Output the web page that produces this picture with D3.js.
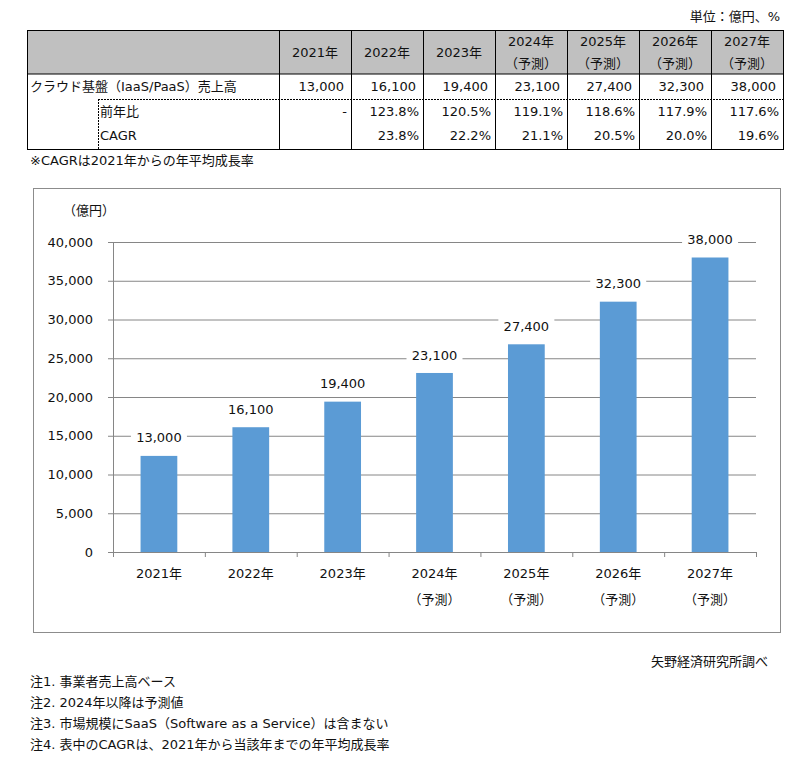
<!DOCTYPE html>
<html>
<head>
<meta charset="utf-8">
<script src="https://cdn.jsdelivr.net/npm/d3@7"></script>
<style>
  body { margin: 0; background: #fff; }
  svg text { font-family: "DejaVu Sans", "Noto Sans CJK JP", sans-serif; font-size: 13px; fill: #111; }
</style>
</head>
<body>
<div id="chart"></div>
<script>
// data
var years = ["2021年", "2022年", "2023年", "2024年", "2025年", "2026年", "2027年"];
var forecast = [false, false, false, true, true, true, true];
var sales = ["13,000", "16,100", "19,400", "23,100", "27,400", "32,300", "38,000"];
var yoy = ["-", "123.8%", "120.5%", "119.1%", "118.6%", "117.9%", "117.6%"];
var cagr = ["", "23.8%", "22.2%", "21.1%", "20.5%", "20.0%", "19.6%"];
// bar heights as drawn in the chart
var barValues = [12400, 16100, 19400, 23100, 26800, 32300, 38000];
var yTicks = [0, 5000, 10000, 15000, 20000, 25000, 30000, 35000, 40000];
var notes = [
  "注1. 事業者売上高ベース",
  "注2. 2024年以降は予測値",
  "注3. 市場規模にSaaS（Software as a Service）は含まない",
  "注4. 表中のCAGRは、2021年から当該年までの年平均成長率"
];

var width = 810, height = 758;
var svg = d3.select("#chart").append("svg")
    .attr("width", width)
    .attr("height", height);

//-TABLE-------------------------------------------------------------------//
var tbl = {left: 27, right: 783, top: 30, head: 74, row1: 99, bottom: 149, firstCol: 279, sub: 98};
var colScale = d3.scaleBand().domain(years).range([tbl.firstCol, tbl.right]);

svg.append("text")
    .attr("x", 780).attr("y", 16).attr("dy", "0.35em")
    .attr("text-anchor", "end")
    .text("単位：億円、%");

svg.append("rect")
    .attr("x", tbl.left).attr("y", tbl.top)
    .attr("width", tbl.right - tbl.left).attr("height", tbl.head - tbl.top)
    .attr("fill", "#c0c0c0");

var tg = svg.append("g").attr("class", "table");
tg.append("line")
    .attr("x1", tbl.left).attr("x2", tbl.right)
    .attr("y1", tbl.head).attr("y2", tbl.head)
    .attr("stroke", "#000");
tg.append("line")
    .attr("x1", tbl.sub).attr("x2", tbl.right)
    .attr("y1", tbl.row1 + 0.5).attr("y2", tbl.row1 + 0.5)
    .attr("stroke", "#000").attr("stroke-dasharray", "2,1");
tg.append("line")
    .attr("x1", tbl.sub + 0.5).attr("x2", tbl.sub + 0.5)
    .attr("y1", tbl.row1).attr("y2", tbl.bottom)
    .attr("stroke", "#000").attr("stroke-dasharray", "2,1");
tg.selectAll("line.col").data(years).enter().append("line")
    .attr("class", "col")
    .attr("x1", d => colScale(d) + 0.5).attr("x2", d => colScale(d) + 0.5)
    .attr("y1", tbl.top).attr("y2", tbl.bottom)
    .attr("stroke", "#000");
tg.append("rect")
    .attr("x", tbl.left + 0.5).attr("y", tbl.top + 0.5)
    .attr("width", tbl.right - tbl.left).attr("height", tbl.bottom - tbl.top)
    .attr("fill", "none").attr("stroke", "#000");

// header
years.forEach(function(y, i){
    var cx = colScale(y) + colScale.bandwidth() / 2;
    if (forecast[i]) {
        tg.append("text").attr("x", cx).attr("y", 41).attr("dy", "0.35em")
            .attr("text-anchor", "middle").text(y);
        tg.append("text").attr("x", cx).attr("y", 63).attr("dy", "0.35em")
            .attr("text-anchor", "middle").text("（予測）");
    } else {
        tg.append("text").attr("x", cx).attr("y", 52).attr("dy", "0.35em")
            .attr("text-anchor", "middle").text(y);
    }
});

tg.append("text").attr("x", 30).attr("y", 86).attr("dy", "0.35em")
    .text("クラウド基盤（IaaS/PaaS）売上高");
tg.append("text").attr("x", 100).attr("y", 111).attr("dy", "0.35em").text("前年比");
tg.append("text").attr("x", 100).attr("y", 135).attr("dy", "0.35em").text("CAGR");

function rowText(arr, y, pad){
    tg.selectAll(null).data(arr).enter().append("text")
        .attr("x", (d, i) => colScale(years[i]) + colScale.bandwidth() - pad)
        .attr("y", y).attr("dy", "0.35em")
        .attr("text-anchor", "end")
        .text(d => d);
}
rowText(sales, 86, 7);
rowText(yoy, 111, 4);
rowText(cagr, 135, 4);

svg.append("text").attr("x", 30).attr("y", 160).attr("dy", "0.35em")
    .text("※CAGRは2021年からの年平均成長率");

//-CHART-------------------------------------------------------------------//
svg.append("rect")
    .attr("x", 33.5).attr("y", 188.5)
    .attr("width", 747).attr("height", 444)
    .attr("fill", "none").attr("stroke", "#8c8c8c");

var xScale = d3.scaleBand().domain(years).range([113, 756]);
var yScale = d3.scaleLinear().domain([0, 40000]).range([552, 242]);
var gridColor = "#868686";

var g = svg.append("g").attr("class", "mainchart");

g.append("text").attr("x", 63).attr("y", 210).attr("dy", "0.35em").text("（億円）");

var yAxis = d3.axisLeft(yScale)
    .tickValues(yTicks)
    .tickSize(-(756 - 113))
    .tickPadding(15)
    .tickFormat(d3.format(","));
var gy = g.append("g").attr("class", "axis y-axis")
    .attr("transform", "translate(113,0)")
    .call(yAxis);
gy.select(".domain").remove();
gy.selectAll(".tick line").attr("stroke", gridColor).attr("x1", -5);
gy.selectAll(".tick text").attr("x", -20).style("font-size", "13px").attr("fill", "#111");
gy.append("line")
    .attr("x1", 0.5).attr("x2", 0.5)
    .attr("y1", yScale(40000)).attr("y2", yScale(0))
    .attr("stroke", gridColor);

// x axis baseline with boundary ticks
var gx = g.append("g").attr("class", "axis x-axis");
gx.append("line")
    .attr("x1", 113).attr("x2", 756)
    .attr("y1", yScale(0) + 0.5).attr("y2", yScale(0) + 0.5)
    .attr("stroke", gridColor);
gx.selectAll("line.tk").data(years.concat(["end"])).enter().append("line")
    .attr("class", "tk")
    .attr("x1", (d, i) => (i < years.length ? xScale(d) : 756) + 0.5)
    .attr("x2", (d, i) => (i < years.length ? xScale(d) : 756) + 0.5)
    .attr("y1", yScale(0)).attr("y2", yScale(0) + 5)
    .attr("stroke", gridColor);
gx.selectAll("text.yr").data(years).enter().append("text")
    .attr("class", "yr")
    .attr("x", d => xScale(d) + xScale.bandwidth() / 2)
    .attr("y", 573).attr("dy", "0.35em")
    .attr("text-anchor", "middle")
    .text(d => d);
gx.selectAll("text.fc").data(years.filter((d, i) => forecast[i])).enter().append("text")
    .attr("class", "fc")
    .attr("x", d => xScale(d) + xScale.bandwidth() / 2)
    .attr("y", 599).attr("dy", "0.35em")
    .attr("text-anchor", "middle")
    .text("（予測）");

// bars
var bw = xScale.bandwidth() * 0.4;
g.selectAll("rect.bar").data(barValues).enter().append("rect")
    .attr("class", "bar")
    .attr("x", (d, i) => xScale(years[i]) + (xScale.bandwidth() - bw) / 2)
    .attr("y", d => yScale(d))
    .attr("width", bw)
    .attr("height", d => yScale(0) - yScale(d))
    .attr("fill", "#5b9bd5");

// value labels with white backing
var labels = g.selectAll("g.lbl").data(barValues).enter().append("g")
    .attr("class", "lbl")
    .attr("transform", (d, i) => "translate(" + (xScale(years[i]) + xScale.bandwidth() / 2) + "," + (yScale(d) - 18) + ")");
labels.append("rect")
    .attr("x", -28).attr("y", -10).attr("width", 56).attr("height", 20)
    .attr("fill", "#fff");
labels.append("text")
    .attr("text-anchor", "middle").attr("dy", "0.35em")
    .text((d, i) => sales[i]);

svg.append("text").attr("x", 768).attr("y", 661).attr("dy", "0.35em")
    .attr("text-anchor", "end")
    .text("矢野経済研究所調べ");

svg.selectAll("text.note").data(notes).enter().append("text")
    .attr("class", "note")
    .attr("x", 30)
    .attr("y", (d, i) => 681 + i * 21)
    .attr("dy", "0.35em")
    .text(d => d);
</script>
</body>
</html>
